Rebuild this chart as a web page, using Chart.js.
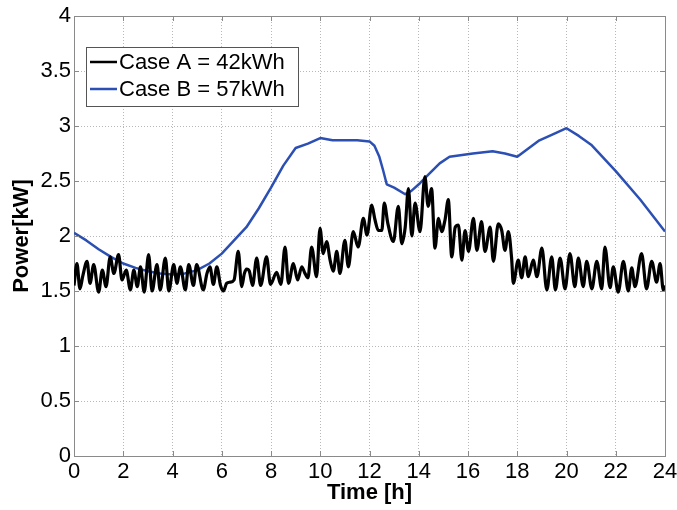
<!DOCTYPE html>
<html>
<head>
<meta charset="utf-8">
<title>Power profile</title>
<script src="https://cdn.jsdelivr.net/npm/chart.js@4.4.1/dist/chart.umd.min.js"></script>
<style>
  html, body { margin: 0; padding: 0; background: #fff; }
  #wrap { width: 677px; height: 510px; }
</style>
</head>
<body>
<div id="wrap"><canvas id="powerChart" width="677" height="510"></canvas></div>
<script>
// Case A: measured load, hours vs kW
const caseATime = [
    0.00, 0.12, 0.24, 0.36, 0.53, 0.65, 0.80, 1.00, 1.15, 1.30, 1.47, 1.62, 1.81, 1.95, 2.12, 2.29,
    2.43, 2.57, 2.70, 2.85, 3.03, 3.17, 3.37, 3.50, 3.71, 3.85, 4.05, 4.18, 4.32, 4.52, 4.66, 4.85,
    4.98, 5.25, 5.40, 5.52, 5.66, 5.80, 5.95, 6.07, 6.20, 6.34, 6.50, 6.67, 6.81, 6.92, 7.01, 7.12,
    7.25, 7.42, 7.58, 7.82, 7.98, 8.23, 8.40, 8.57, 8.71, 8.91, 9.08, 9.25, 9.38, 9.50, 9.65, 9.85,
    9.99, 10.12, 10.26, 10.40, 10.53, 10.67, 10.80, 11.00, 11.14, 11.34, 11.54, 11.75, 11.90, 12.09,
    12.22, 12.36, 12.50, 12.60, 12.74, 12.97, 13.17, 13.31, 13.45, 13.58, 13.72, 13.85, 14.05, 14.25,
    14.38, 14.52, 14.66, 14.80, 14.93, 15.07, 15.20, 15.34, 15.48, 15.61, 15.75, 15.88, 16.02, 16.22,
    16.36, 16.55, 16.69, 16.90, 17.03, 17.23, 17.37, 17.50, 17.64, 17.77, 17.84, 18.04, 18.18, 18.32,
    18.45, 18.65, 18.80, 19.00, 19.20, 19.40, 19.55, 19.74, 19.94, 20.14, 20.34, 20.48, 20.68, 20.82,
    21.03, 21.23, 21.43, 21.56, 21.77, 21.90, 22.10, 22.31, 22.51, 22.65, 22.78, 23.05, 23.25, 23.46,
    23.66, 23.80, 23.93, 24.00
];
const caseAPower = [
    1.55, 1.75, 1.52, 1.64, 1.77, 1.57, 1.74, 1.49, 1.69, 1.54, 1.81, 1.66, 1.83, 1.60, 1.69, 1.51,
    1.69, 1.54, 1.72, 1.49, 1.83, 1.50, 1.74, 1.51, 1.80, 1.50, 1.74, 1.57, 1.72, 1.51, 1.74, 1.55,
    1.74, 1.51, 1.66, 1.72, 1.56, 1.72, 1.55, 1.50, 1.57, 1.58, 1.60, 1.86, 1.54, 1.66, 1.70, 1.68,
    1.55, 1.80, 1.55, 1.81, 1.56, 1.67, 1.56, 1.90, 1.57, 1.75, 1.60, 1.72, 1.66, 1.62, 1.90, 1.63,
    2.07, 1.84, 1.95, 1.78, 1.68, 1.86, 1.66, 1.96, 1.72, 2.04, 1.90, 2.16, 2.01, 2.28,
    2.15, 2.05, 2.05, 2.30, 2.12, 1.95, 2.27, 1.93, 2.08, 2.43, 2.00, 2.30, 2.04, 2.54,
    2.27, 2.43, 1.89, 2.16, 2.04, 2.15, 2.33, 1.81, 2.08, 2.10, 1.78, 2.05, 1.86, 2.16,
    1.87, 2.13, 1.86, 2.08, 1.77, 2.11, 2.05, 1.87, 2.04, 1.80, 1.57, 1.78, 1.62, 1.81,
    1.63, 1.78, 1.63, 1.89, 1.51, 1.81, 1.51, 1.80, 1.52, 1.84, 1.54, 1.80, 1.54, 1.77,
    1.52, 1.77, 1.52, 1.90, 1.53, 1.72, 1.49, 1.77, 1.50, 1.71, 1.54, 1.84, 1.52, 1.77,
    1.58, 1.75, 1.51, 1.55
];

// Case B: smoothed profile
const caseBTime = [
    0, 0.5, 1, 1.5, 2, 2.5, 3, 3.5, 4, 4.5, 5, 5.5, 6, 6.5, 7, 7.5, 8, 8.5, 9, 9.5, 10, 10.5,
    11, 11.5, 12, 12.2, 12.4, 12.55, 12.7, 13.0, 13.45, 13.7, 14.05, 14.4, 14.85, 15.25, 16.2,
    17.0, 17.5, 18.0, 18.9, 19.4, 20.0, 20.5, 21.0, 21.5, 22.0, 23.0, 24.0
];
const caseBPower = [
    2.03, 1.96, 1.88, 1.81, 1.75, 1.71, 1.68, 1.66, 1.65, 1.66, 1.69, 1.75, 1.84, 1.96, 2.08, 2.25,
    2.44, 2.64, 2.80, 2.84, 2.89, 2.87, 2.87, 2.87, 2.86, 2.82, 2.72, 2.60, 2.47, 2.44, 2.38, 2.41,
    2.48, 2.56, 2.66, 2.72, 2.75, 2.77, 2.75, 2.72, 2.87, 2.92, 2.98, 2.91, 2.83, 2.71, 2.59, 2.33,
    2.04
];

const seriesLabels = ['Case A = 42kWh', 'Case B = 57kWh'];
const xTicks = [0, 2, 4, 6, 8, 10, 12, 14, 16, 18, 20, 22, 24];
const yTicks = [0, 0.5, 1, 1.5, 2, 2.5, 3, 3.5, 4];

const FONT = "'Liberation Sans', Arial, sans-serif";
const AXIS_GRAY = '#8a8a8a';

function toPoints(xs, ys) {
    return xs.map((t, i) => ({ x: t, y: ys[i] }));
}

// frame on top/right, inward tick marks and the legend box inside the plot
const framePlugin = {
    id: 'framePlugin',
    afterDraw(chart) {
        const { ctx, chartArea: a, scales } = chart;
        const tl = 5;
        ctx.save();
        ctx.strokeStyle = AXIS_GRAY;
        ctx.lineWidth = 1;
        ctx.beginPath();
        ctx.moveTo(a.left, a.top + 0.5);
        ctx.lineTo(a.right + 0.5, a.top + 0.5);
        ctx.lineTo(a.right + 0.5, a.bottom);
        xTicks.forEach(v => {
            const px = Math.round(scales.x.getPixelForValue(v)) + 0.5;
            ctx.moveTo(px, a.bottom); ctx.lineTo(px, a.bottom - tl);
            ctx.moveTo(px, a.top); ctx.lineTo(px, a.top + tl);
        });
        yTicks.forEach(v => {
            const py = Math.round(scales.y.getPixelForValue(v)) + 0.5;
            ctx.moveTo(a.left, py); ctx.lineTo(a.left + tl, py);
            ctx.moveTo(a.right, py); ctx.lineTo(a.right - tl, py);
        });
        ctx.stroke();

        // legend
        const bx = 86, by = 47, bw = 212, bh = 59;
        ctx.fillStyle = '#fff';
        ctx.fillRect(bx, by, bw, bh);
        ctx.strokeStyle = '#555';
        ctx.strokeRect(bx + 0.5, by + 0.5, bw, bh);
        ctx.font = '22px ' + FONT;
        ctx.textBaseline = 'middle';
        chart.data.datasets.forEach((ds, i) => {
            const ly = by + 15 + i * 27;
            ctx.strokeStyle = ds.borderColor;
            ctx.lineWidth = 2.5;
            ctx.beginPath();
            ctx.moveTo(bx + 4, ly);
            ctx.lineTo(bx + 31, ly);
            ctx.stroke();
            ctx.fillStyle = '#000';
            ctx.fillText(ds.label, bx + 33, ly + 1);
        });
        ctx.restore();
    }
};

function createChart() {
    const ctx = document.getElementById('powerChart').getContext('2d');
    return new Chart(ctx, {
        type: 'line',
        data: {
            datasets: [{
                label: seriesLabels[0],
                data: toPoints(caseATime, caseAPower),
                borderColor: '#000000',
                borderWidth: 3.2,
                borderJoinStyle: 'round',
                pointRadius: 0,
                cubicInterpolationMode: 'monotone'
            }, {
                label: seriesLabels[1],
                data: toPoints(caseBTime, caseBPower),
                borderColor: '#2b4fb3',
                borderWidth: 2.5,
                borderJoinStyle: 'round',
                pointRadius: 0,
                tension: 0
            }]
        },
        options: {
            responsive: false,
            animation: false,
            layout: { padding: { left: 0, right: 12, top: 16, bottom: 0 } },
            plugins: {
                legend: { display: false },
                tooltip: { enabled: false }
            },
            scales: {
                x: {
                    type: 'linear',
                    min: 0,
                    max: 24,
                    afterBuildTicks: s => { s.ticks = xTicks.map(v => ({ value: v })); },
                    afterFit: s => { s.height = 54; s.paddingLeft = 0; s.paddingRight = 0; },
                    ticks: {
                        color: '#000',
                        padding: 3,
                        maxRotation: 0,
                        callback: v => String(v),
                        font: { family: FONT, size: 22 }
                    },
                    grid: { color: '#b8b8b8', drawTicks: false, lineWidth: 1 },
                    border: { color: AXIS_GRAY, dash: [1, 2] },
                    title: {
                        display: true,
                        text: 'Time [h]',
                        color: '#000',
                        padding: { top: 0, bottom: 4 },
                        font: { family: FONT, size: 22, weight: 'bold' }
                    }
                },
                y: {
                    min: 0,
                    max: 4,
                    afterBuildTicks: s => { s.ticks = yTicks.map(v => ({ value: v })); },
                    afterFit: s => { s.width = 74; s.paddingTop = 0; s.paddingBottom = 0; },
                    ticks: {
                        color: '#000',
                        padding: 3,
                        callback: v => String(v),
                        font: { family: FONT, size: 22 }
                    },
                    grid: { color: '#b8b8b8', drawTicks: false, lineWidth: 1 },
                    border: { color: AXIS_GRAY, dash: [1, 2] },
                    title: {
                        display: true,
                        text: 'Power[kW]',
                        color: '#000',
                        padding: { top: 9, bottom: 0 },
                        font: { family: FONT, size: 22, weight: 'bold' }
                    }
                }
            }
        },
        plugins: [framePlugin]
    });
}

let myChart = createChart();
</script>
</body>
</html>
